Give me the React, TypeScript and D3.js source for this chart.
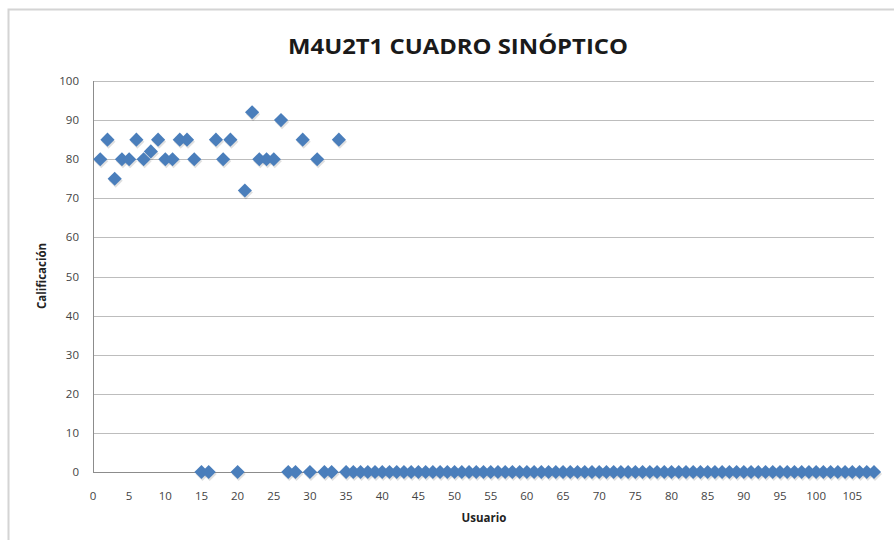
import React, { useRef, useEffect } from 'react';
import * as d3 from 'd3';

// Usuario 1..108, one Calificación each
const usuarios: number[] = Array.from({ length: 108 }, (_, i) => i + 1);
const calificaciones: number[] = [
  80, 85, 75, 80, 80, 85, 80, 82, 85, 80,
  80, 85, 85, 80, 0, 0, 85, 80, 85, 0,
  72, 92, 80, 80, 80, 90, 0, 0, 85, 0,
  80, 0, 0, 85, 0, 0, 0, 0, 0, 0,
  0, 0, 0, 0, 0, 0, 0, 0, 0, 0,
  0, 0, 0, 0, 0, 0, 0, 0, 0, 0,
  0, 0, 0, 0, 0, 0, 0, 0, 0, 0,
  0, 0, 0, 0, 0, 0, 0, 0, 0, 0,
  0, 0, 0, 0, 0, 0, 0, 0, 0, 0,
  0, 0, 0, 0, 0, 0, 0, 0, 0, 0,
  0, 0, 0, 0, 0, 0, 0, 0,
];
const xTicks: number[] = [0, 5, 10, 15, 20, 25, 30, 35, 40, 45, 50, 55, 60, 65, 70, 75, 80, 85, 90, 95, 100, 105];
const yTicks: number[] = [0, 10, 20, 30, 40, 50, 60, 70, 80, 90, 100];

const title = 'M4U2T1 CUADRO SINÓPTICO';
const xLabel = 'Usuario';
const yLabel = 'Calificación';

const W = 894;
const H = 540;
const font = '"Open Sans", "DejaVu Sans", sans-serif';

const App = () => {
  const ref = useRef<SVGSVGElement>(null);

  useEffect(() => {
    if (!ref.current) return;
    const svg = d3.select(ref.current);
    svg.selectAll('*').remove();

    const left = 93, right = 874, top = 81, bottom = 472;

    const x = d3.scaleLinear().domain([0, 108]).range([left, right]);
    const y = d3.scaleLinear().domain([0, 100]).range([bottom, top]);

    // chart frame (cropped on right and bottom)
    svg.append('rect')
      .attr('x', 8.5).attr('y', 9.5)
      .attr('width', W + 10).attr('height', H + 10)
      .attr('fill', '#fff').attr('stroke', '#d4d4d4').attr('stroke-width', 2);

    // gridlines
    svg.append('g')
      .selectAll('line')
      .data(yTicks.filter(d => d > 0))
      .enter()
      .append('line')
      .attr('x1', left).attr('x2', right)
      .attr('y1', d => Math.round(y(d)) + 0.5).attr('y2', d => Math.round(y(d)) + 0.5)
      .attr('stroke', '#bdbdbd').attr('stroke-width', 1.2);

    // axes lines
    svg.append('line')
      .attr('x1', left + 0.5).attr('x2', left + 0.5).attr('y1', top).attr('y2', bottom)
      .attr('stroke', '#8c8c8c');
    svg.append('line')
      .attr('x1', left).attr('x2', right).attr('y1', bottom + 0.5).attr('y2', bottom + 0.5)
      .attr('stroke', '#8c8c8c');

    // tick labels
    svg.append('g')
      .selectAll('text')
      .data(yTicks)
      .enter()
      .append('text')
      .attr('x', left - 14)
      .attr('y', d => y(d) + 4)
      .attr('text-anchor', 'end')
      .attr('font-family', font)
      .attr('font-size', 11.5)
      .attr('fill', '#444')
      .text(d => d);

    svg.append('g')
      .selectAll('text')
      .data(xTicks)
      .enter()
      .append('text')
      .attr('x', d => x(d))
      .attr('y', bottom + 28)
      .attr('text-anchor', 'middle')
      .attr('font-family', font)
      .attr('font-size', 11.5)
      .attr('fill', '#444')
      .text(d => d);

    // titles
    svg.append('text')
      .attr('x', 458).attr('y', 54)
      .attr('text-anchor', 'middle')
      .attr('font-family', font)
      .attr('font-weight', 'bold')
      .attr('font-size', 22)
      .attr('textLength', 340)
      .attr('lengthAdjust', 'spacingAndGlyphs')
      .attr('fill', '#1a1a1a')
      .text(title);

    svg.append('text')
      .attr('x', 484).attr('y', 522)
      .attr('text-anchor', 'middle')
      .attr('font-family', font)
      .attr('font-weight', 'bold')
      .attr('font-size', 11.5)
      .attr('fill', '#222')
      .text(xLabel);

    svg.append('text')
      .attr('transform', `translate(46,276) rotate(-90)`)
      .attr('text-anchor', 'middle')
      .attr('font-family', font)
      .attr('font-weight', 'bold')
      .attr('font-size', 11.5)
      .attr('fill', '#222')
      .text(yLabel);

    // markers
    const diamond = d3.symbol().type(d3.symbolSquare).size(100);
    const pts = usuarios.map((u, i) => ({ u, v: calificaciones[i] }));

    svg.append('g')
      .selectAll('path.shadow')
      .data(pts)
      .enter()
      .append('path')
      .attr('d', diamond() as string)
      .attr('transform', d => `translate(${x(d.u) + 1},${y(d.v) + 2}) rotate(45)`)
      .attr('fill', '#000')
      .attr('opacity', 0.12);

    svg.append('g')
      .selectAll('path.mark')
      .data(pts)
      .enter()
      .append('path')
      .attr('d', diamond() as string)
      .attr('transform', d => `translate(${x(d.u)},${y(d.v)}) rotate(45)`)
      .attr('fill', '#4a7ebb');
  }, []);

  return (
    <svg
      ref={ref}
      width={W}
      height={H}
      style={{ position: 'absolute', left: 0, top: 0, background: '#fff' }}
    />
  );
};

export default App;
